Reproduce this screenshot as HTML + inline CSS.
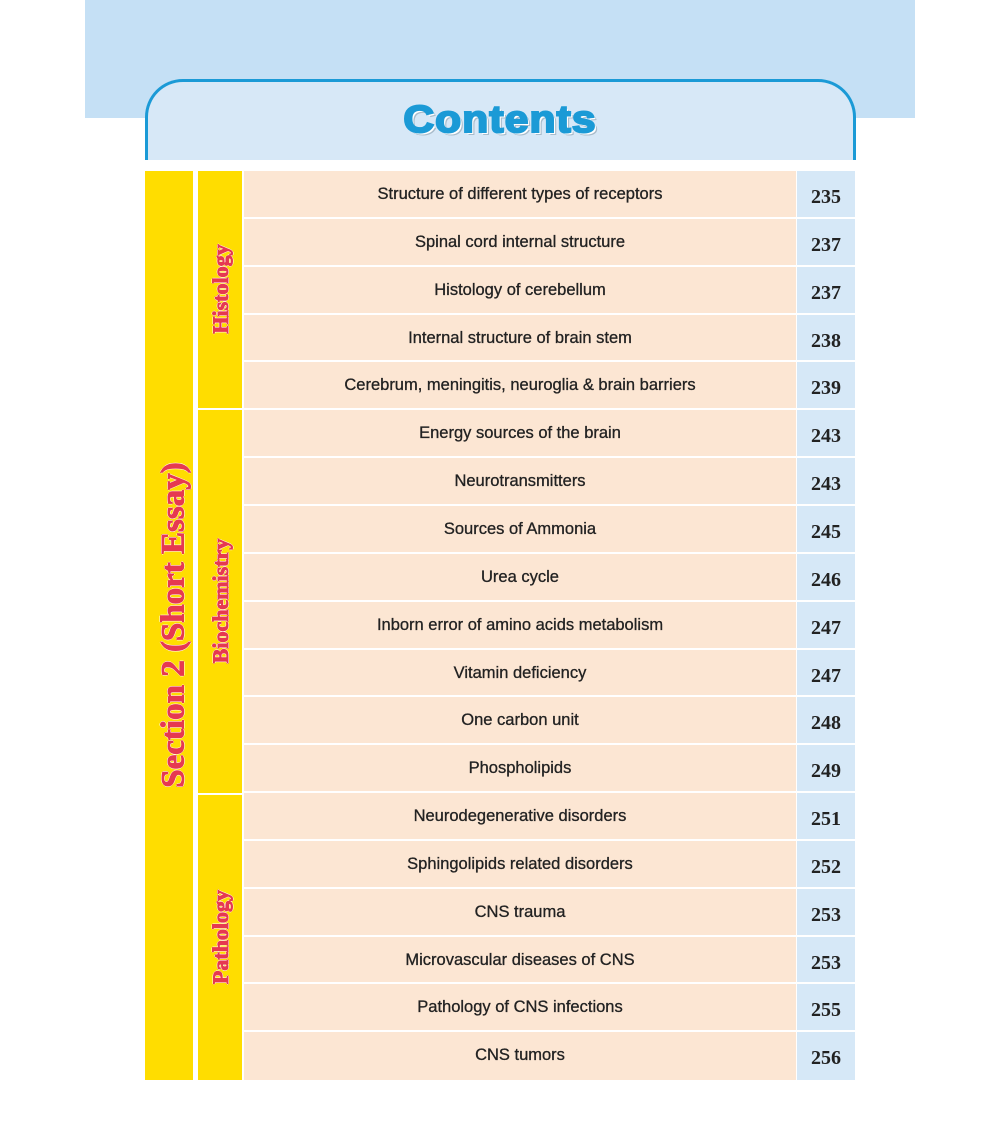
<!DOCTYPE html>
<html><head><meta charset="utf-8"><style>
*{margin:0;padding:0;box-sizing:border-box}
body{width:1000px;height:1144px;background:#fff;position:relative;overflow:hidden;font-family:"Liberation Sans",sans-serif}
.band{position:absolute;left:85px;top:0;width:830px;height:118px;background:#c5e0f5}
.tab{position:absolute;left:145px;top:79px;width:711px;height:81px;background:#d7e8f7;border:3px solid #1b9ad6;border-bottom:none;border-radius:38px 38px 0 0}
.title{position:absolute;left:0;top:99px;width:1000px;text-align:center;font:bold 38px "Liberation Sans",sans-serif;color:#1b9ad6;-webkit-text-stroke:2px #1b9ad6;letter-spacing:1px;transform:scaleX(1.12);text-shadow:2px 2px 0 #fff,3px 3px 0 #a9bccb}
.sec{position:absolute;left:145px;top:171px;width:48px;height:909px;background:#ffdd00}
.sub{position:absolute;left:198px;width:44px;background:#ffdd00}
.row{position:absolute;left:244px;width:552px;background:#fce6d3;text-align:center;font-size:16.5px;color:#222;padding-top:14px;-webkit-text-stroke:0.3px #222}
.pg{position:absolute;left:797px;width:58px;background:#d6e8f7;text-align:center;font:bold 20px "Liberation Serif",serif;color:#222;padding-top:15px}
.vl{position:absolute;white-space:nowrap;font-family:"Liberation Serif",serif;font-weight:bold;color:#e63950;-webkit-text-stroke:1px #e63950;transform:translate(-50%,-50%) rotate(-90deg);text-shadow:1px 0 0 #fff,-1px 0 0 #fff,0 1px 0 #fff,0 -1px 0 #fff}
</style></head><body>
<div class="band"></div>
<div class="tab"></div>
<div class="title">Contents</div>
<div class="sec"></div>
<div class="sub" style="top:171px;height:237px"></div>
<div class="sub" style="top:410px;height:383px"></div>
<div class="sub" style="top:795px;height:285px"></div>
<div class="vl" style="left:174px;top:625px;font-size:33px">Section 2 (Short Essay)</div>
<div class="vl" style="left:221px;top:289px;font-size:22px">Histology</div>
<div class="vl" style="left:221px;top:601px;font-size:22px">Biochemistry</div>
<div class="vl" style="left:221px;top:937px;font-size:22px">Pathology</div>
<div id="rows"></div>
<script>
var d=[["Structure of different types of receptors",235],["Spinal cord internal structure",237],["Histology of cerebellum",237],["Internal structure of brain stem",238],["Cerebrum, meningitis, neuroglia & brain barriers",239],["Energy sources of the brain",243],["Neurotransmitters",243],["Sources of Ammonia",245],["Urea cycle",246],["Inborn error of amino acids metabolism",247],["Vitamin deficiency",247],["One carbon unit",248],["Phospholipids",249],["Neurodegenerative disorders",251],["Sphingolipids related disorders",252],["CNS trauma",253],["Microvascular diseases of CNS",253],["Pathology of CNS infections",255],["CNS tumors",256]];
var h="";for(var i=0;i<d.length;i++){var t=Math.round(171+i*47.85);var nt=Math.round(171+(i+1)*47.85);var hh=nt-t-2;if(i==18)hh=1080-t;
h+='<div class="row" style="top:'+t+'px;height:'+hh+'px">'+d[i][0].replace("&","&amp;")+'</div><div class="pg" style="top:'+t+'px;height:'+hh+'px">'+d[i][1]+'</div>';}
document.getElementById("rows").innerHTML=h;
</script>
</body></html>
